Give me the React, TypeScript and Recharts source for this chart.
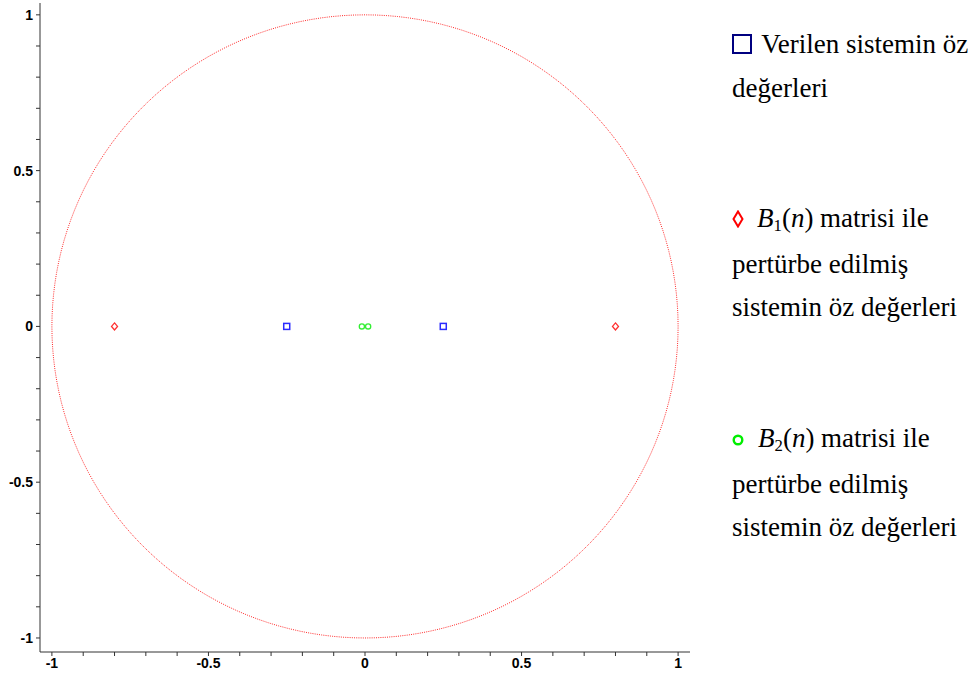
import { Scatter, ScatterChart, XAxis, YAxis } from "recharts";

const givenEigen = [
  { x: -0.25, y: 0 },
  { x: 0.25, y: 0 },
];
const b1Eigen = [
  { x: -0.8, y: 0 },
  { x: 0.8, y: 0 },
];
const b2Eigen = [
  { x: -0.01, y: 0 },
  { x: 0.01, y: 0 },
];

// unit circle |z| = 1 (reference curve, not measured data)
const circleAngles = Array.from({ length: 181 }, (_, i) => i * 2);
const unitCircle = circleAngles.map((deg) => ({
  x: Math.cos((deg * Math.PI) / 180),
  y: Math.sin((deg * Math.PI) / 180),
}));

const axisTicks = [
  -1, -0.9, -0.8, -0.7, -0.6, -0.5, -0.4, -0.3, -0.2, -0.1, 0, 0.1, 0.2, 0.3,
  0.4, 0.5, 0.6, 0.7, 0.8, 0.9, 1,
];
const labelledTicks = [-1, -0.5, 0, 0.5, 1];

const fmt = (v: number) =>
  labelledTicks.some((t) => Math.abs(t - v) < 1e-6) ? String(v) : "";

const tickStyle = { fill: "#000", fontSize: 14 };

const css = `
.serif-legend, .serif-legend * { font-family: 'Liberation Serif', 'Times New Roman', serif !important; }
.serif-legend i { font-style: italic !important; }
.recharts-cartesian-axis-tick-value, .recharts-cartesian-axis-tick-value tspan {
  font-family: 'Liberation Sans', Arial, sans-serif !important;
  font-weight: 700 !important;
}
`;

const Square = (p: any) => (
  <rect
    x={p.cx - 3}
    y={p.cy - 3}
    width={6}
    height={6}
    fill="none"
    stroke="#2a2aff"
    strokeWidth={1.5}
  />
);
const Diamond = (p: any) => (
  <polygon
    points={`${p.cx},${p.cy - 3.5} ${p.cx + 3},${p.cy} ${p.cx},${p.cy + 3.5} ${p.cx - 3},${p.cy}`}
    fill="none"
    stroke="#ff3030"
    strokeWidth={1.3}
  />
);
const Ring = (p: any) => (
  <circle
    cx={p.cx}
    cy={p.cy}
    r={2.6}
    fill="none"
    stroke="#33ee33"
    strokeWidth={1.3}
  />
);

const Sub = ({ children }: { children: string }) => (
  <span style={{ fontSize: "0.62em", position: "relative", top: "0.25em" }}>
    {children}
  </span>
);

const block = (top: number, lh: number) => ({
  position: "absolute" as const,
  left: 732,
  top,
  lineHeight: `${lh}px`,
  fontSize: 27,
  color: "#000",
  whiteSpace: "nowrap" as const,
});

export default function App() {
  return (
    <div
      style={{
        position: "absolute",
        left: 0,
        top: 0,
        width: 976,
        height: 675,
        background: "#fff",
      }}
    >
      <style>{css}</style>
      <ScatterChart
        width={700}
        height={675}
        margin={{ top: 3, right: 10, bottom: 0, left: 0 }}
      >
        <XAxis
          type="number"
          dataKey="x"
          domain={[-1.038, 1.038]}
          ticks={axisTicks}
          tickFormatter={fmt}
          interval={0}
          tickSize={4}
          tickMargin={2}
          height={23}
          stroke="#333"
          tick={tickStyle}
          allowDataOverflow
        />
        <YAxis
          type="number"
          dataKey="y"
          domain={[-1.045, 1.038]}
          ticks={axisTicks}
          tickFormatter={fmt}
          interval={0}
          tickSize={4}
          tickMargin={3}
          width={40}
          stroke="#333"
          tick={tickStyle}
          allowDataOverflow
        />
        <Scatter
          data={unitCircle}
          line={{ stroke: "#ff2a2a", strokeWidth: 1, strokeDasharray: "1 1.2" }}
          lineType="joint"
          shape={() => <g />}
          isAnimationActive={false}
        />
        <Scatter data={givenEigen} shape={Square} isAnimationActive={false} />
        <Scatter data={b1Eigen} shape={Diamond} isAnimationActive={false} />
        <Scatter data={b2Eigen} shape={Ring} isAnimationActive={false} />
      </ScatterChart>

      <div className="serif-legend" style={block(22, 44)}>
        <div>
          <span
            style={{
              display: "inline-block",
              width: 16,
              height: 16,
              border: "2px solid #000080",
              marginRight: 3,
              verticalAlign: "-1px",
            }}
          />{" "}
          Verilen sistemin öz
        </div>
        <div>değerleri</div>
      </div>

      <div className="serif-legend" style={block(197, 43)}>
        <div>
          <svg width={14} height={18} style={{ marginRight: 11, verticalAlign: "-1px" }}>
            <polygon
              points="6,1.5 10.5,9 6,16.5 1.5,9"
              fill="none"
              stroke="#ff0000"
              strokeWidth={2}
            />
          </svg>
          <i>B</i>
          <Sub>1</Sub>(<i>n</i>) matrisi ile
        </div>
        <div>pertürbe edilmiş</div>
        <div>sistemin öz değerleri</div>
      </div>

      <div className="serif-legend" style={block(417, 43)}>
        <div>
          <svg width={14} height={14} style={{ marginRight: 12, verticalAlign: "0px" }}>
            <circle cx={6} cy={7} r={4.3} fill="none" stroke="#00ee00" strokeWidth={2.4} />
          </svg>
          <i>B</i>
          <Sub>2</Sub>(<i>n</i>) matrisi ile
        </div>
        <div>pertürbe edilmiş</div>
        <div>sistemin öz değerleri</div>
      </div>
    </div>
  );
}
